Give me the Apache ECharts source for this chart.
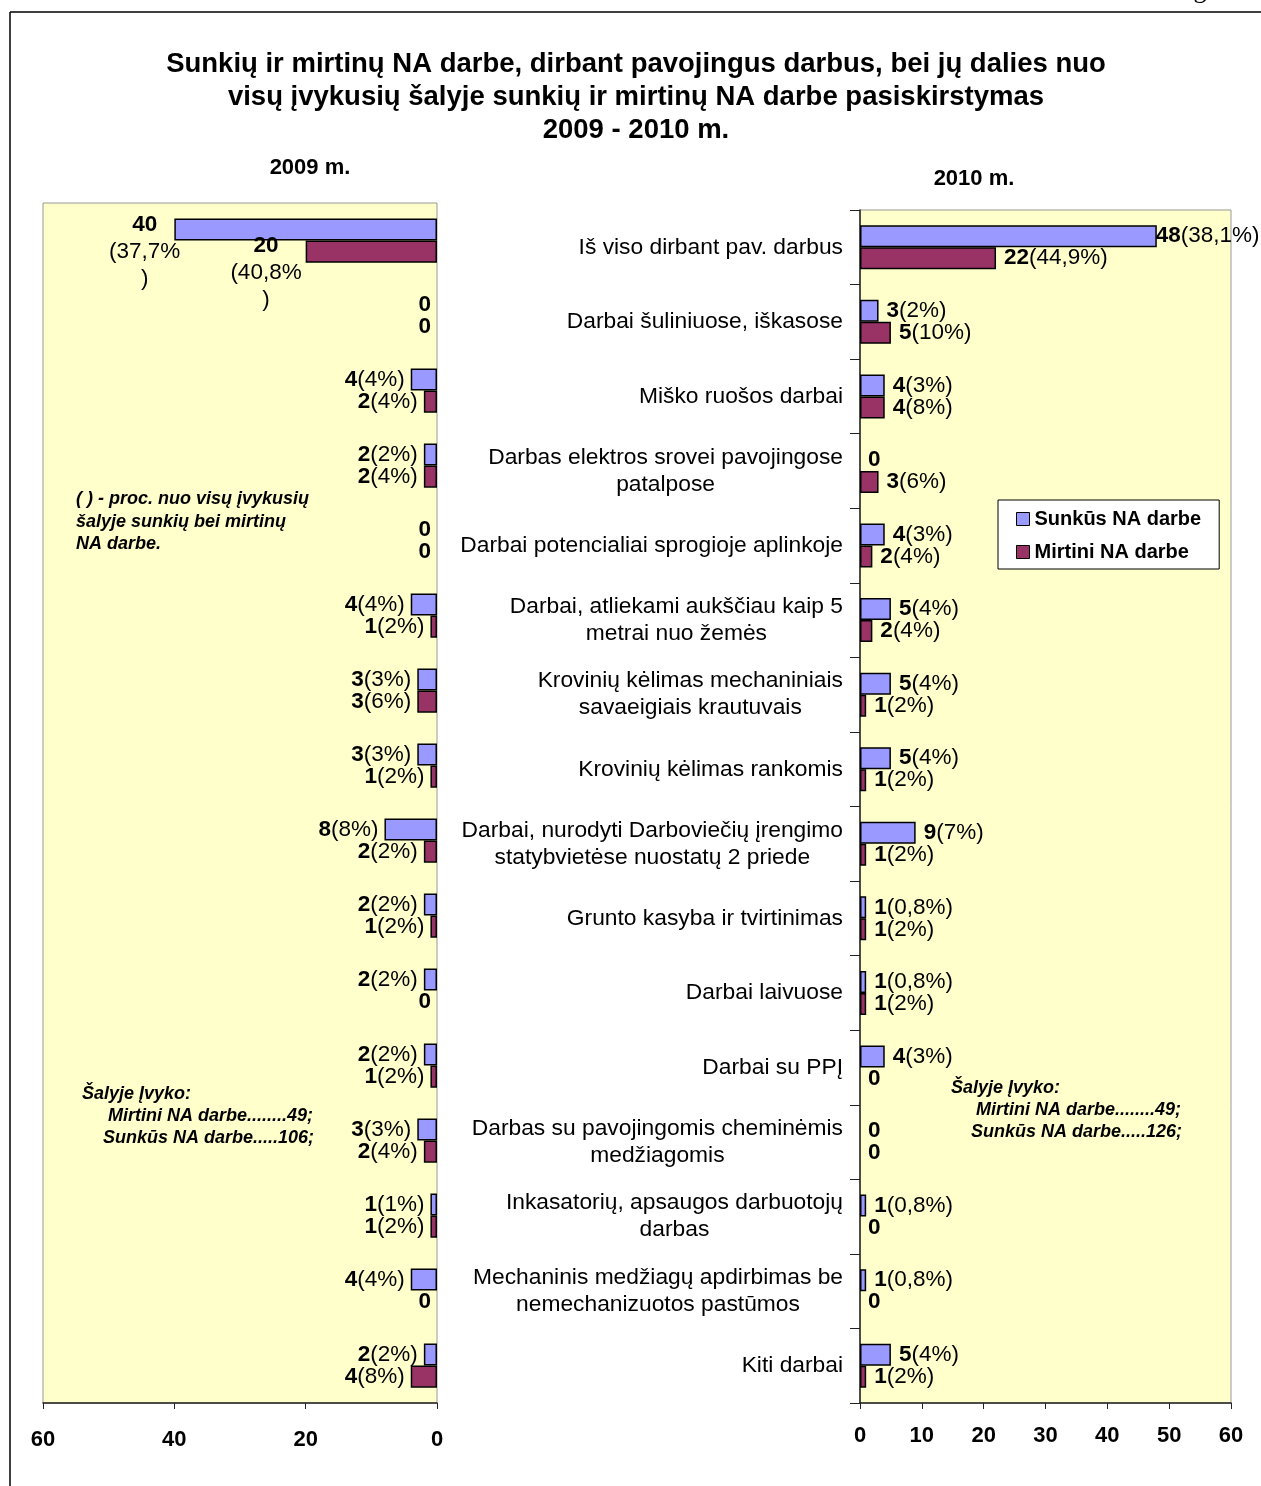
<!DOCTYPE html>
<html>
<head>
<meta charset="utf-8">
<script src="https://cdn.jsdelivr.net/npm/echarts@6/dist/echarts.min.js"></script>
<style>
  html, body { margin: 0; padding: 0; background: #fff; }
  #chart { width: 1261px; height: 1486px; }
</style>
</head>
<body>
<div id="chart"></div>
<script>
var categories = [
    'Iš viso dirbant pav. darbus',
    'Darbai šuliniuose, iškasose',
    'Miško ruošos darbai',
    'Darbas elektros srovei pavojingose\npatalpose',
    'Darbai potencialiai sprogioje aplinkoje',
    'Darbai, atliekami aukščiau kaip 5\nmetrai nuo žemės',
    'Krovinių kėlimas mechaniniais\nsavaeigiais krautuvais',
    'Krovinių kėlimas rankomis',
    'Darbai, nurodyti Darboviečių įrengimo\nstatybvietėse nuostatų 2 priede',
    'Grunto kasyba ir tvirtinimas',
    'Darbai laivuose',
    'Darbai su PPĮ',
    'Darbas su pavojingomis cheminėmis\nmedžiagomis',
    'Inkasatorių, apsaugos darbuotojų\ndarbas',
    'Mechaninis medžiagų apdirbimas be\nnemechanizuotos pastūmos',
    'Kiti darbai'
];
var seriesNames = ['Sunkūs NA darbe', 'Mirtini NA darbe'];

var sunkus2009 = [40, 0, 4, 2, 0, 4, 3, 3, 8, 2, 2, 2, 3, 1, 4, 2];
var mirtini2009 = [20, 0, 2, 2, 0, 1, 3, 1, 2, 1, 0, 1, 2, 1, 0, 4];
var sunkus2009Pct = ['37,7%', '', '4%', '2%', '', '4%', '3%', '3%', '8%', '2%', '2%', '2%', '3%', '1%', '4%', '2%'];
var mirtini2009Pct = ['40,8%', '', '4%', '4%', '', '2%', '6%', '2%', '2%', '2%', '', '2%', '4%', '2%', '', '8%'];

var sunkus2010 = [48, 3, 4, 0, 4, 5, 5, 5, 9, 1, 1, 4, 0, 1, 1, 5];
var mirtini2010 = [22, 5, 4, 3, 2, 2, 1, 1, 1, 1, 1, 0, 0, 0, 0, 1];
var sunkus2010Pct = ['38,1%', '2%', '3%', '', '3%', '4%', '4%', '4%', '7%', '0,8%', '0,8%', '3%', '', '0,8%', '0,8%', '4%'];
var mirtini2010Pct = ['44,9%', '10%', '8%', '6%', '4%', '4%', '2%', '2%', '2%', '2%', '2%', '', '', '', '', '2%'];

var ticks2009 = [0, 20, 40, 60];
var ticks2010 = [0, 10, 20, 30, 40, 50, 60];

var FONT = 'Liberation Sans, Arial, sans-serif';
var BLUE = '#9999FF';
var RED = '#993366';

var labelRich = {
    b: { fontFamily: FONT, fontSize: 22.5, fontWeight: 'bold', color: '#000', lineHeight: 27, align: 'center' },
    n: { fontFamily: FONT, fontSize: 22.5, color: '#000', lineHeight: 27, align: 'center' }
};

// 2009 first row labels are wrapped like in the original sheet
var makeLabel = function (pcts, wrapFirst) {
    return function (p) {
        var pct = pcts[p.dataIndex];
        if (!pct) return '{b|' + p.value + '}';
        if (wrapFirst && p.dataIndex === 0) return '{b|' + p.value + '}\n{n|(' + pct + '}\n{n|)}';
        return '{b|' + p.value + '}{n|(' + pct + ')}';
    };
};

// zero bars get no outline, first item may get a label offset
var toData = function (vals, firstOffset) {
    return vals.map(function (v, i) {
        var item = { value: v };
        if (v === 0) item.itemStyle = { borderWidth: 0 };
        if (i === 0 && firstOffset) item.label = { offset: firstOffset };
        return item;
    });
};

var barSeries = function (name, axis, data, color, pcts, pos, wrapFirst) {
    return {
        name: name,
        type: 'bar',
        xAxisIndex: axis,
        yAxisIndex: axis,
        data: data,
        barGap: '0%',
        barCategoryGap: '41%',
        itemStyle: { color: color, borderColor: '#000', borderWidth: 1.5 },
        label: {
            show: true,
            position: pos,
            distance: pos === 'right' ? 8 : 6,
            formatter: makeLabel(pcts, wrapFirst),
            rich: labelRich
        },
        emphasis: { disabled: true }
    };
};

var catLabel = function (value) {
    return value.split('\n').map(function (l) { return '{c|' + l + '}'; }).join('\n');
};

var noteStyle = { fontFamily: FONT, fontSize: 18, fontWeight: 'bold', fontStyle: 'italic', fill: '#000' };
var noteText = function (x, y, text) {
    return { type: 'text', x: x, y: y, style: Object.assign({ text: text, textAlign: 'left', textVerticalAlign: 'middle' }, noteStyle) };
};

var chart = echarts.init(document.getElementById('chart'));
var option = {
    backgroundColor: '#fff',
    animation: false,
    legend: {
        data: seriesNames,
        orient: 'vertical',
        left: 998,
        top: 500,
        backgroundColor: '#fff',
        borderColor: '#000',
        borderWidth: 1,
        padding: [8, 18, 6, 18],
        itemGap: 11,
        itemWidth: 13,
        itemHeight: 13,
        itemTextGap: 5,
        icon: 'rect',
        itemStyle: { borderColor: '#000', borderWidth: 1 },
        textStyle: { fontFamily: FONT, fontSize: 20, fontWeight: 'bold', color: '#000', lineHeight: 22 },
        selectedMode: false
    },
    grid: [
        { left: 43, top: 203, width: 394, height: 1200, show: true, backgroundColor: '#FFFFCC', borderColor: '#999', borderWidth: 1 },
        { left: 860, top: 210, width: 371, height: 1193, show: true, backgroundColor: '#FFFFCC', borderColor: '#999', borderWidth: 1 }
    ],
    xAxis: [
        {
            gridIndex: 0, type: 'value', inverse: true,
            min: ticks2009[0], max: ticks2009[ticks2009.length - 1], interval: ticks2009[1] - ticks2009[0],
            axisLine: { show: true, lineStyle: { color: '#222', width: 1.5 } },
            axisTick: { show: true, length: 6, lineStyle: { color: '#222' } },
            splitLine: { show: false },
            axisLabel: { margin: 26, fontFamily: FONT, fontSize: 22, fontWeight: 'bold', color: '#000' }
        },
        {
            gridIndex: 1, type: 'value',
            min: ticks2010[0], max: ticks2010[ticks2010.length - 1], interval: ticks2010[1] - ticks2010[0],
            axisLine: { show: true, lineStyle: { color: '#222', width: 1.5 } },
            axisTick: { show: true, length: 6, lineStyle: { color: '#222' } },
            splitLine: { show: false },
            axisLabel: { margin: 22, fontFamily: FONT, fontSize: 22, fontWeight: 'bold', color: '#000' }
        }
    ],
    yAxis: [
        {
            gridIndex: 0, type: 'category', inverse: true, position: 'right',
            data: categories,
            axisLine: { show: false }, axisTick: { show: false }, axisLabel: { show: false }
        },
        {
            gridIndex: 1, type: 'category', inverse: true,
            data: categories,
            axisLine: { show: true, lineStyle: { color: '#222', width: 1.5 } },
            axisTick: { show: true, length: 10, lineStyle: { color: '#222' } },
            axisLabel: {
                interval: 0,
                margin: 17,
                formatter: catLabel,
                rich: { c: { fontFamily: FONT, fontSize: 22.8, color: '#000', lineHeight: 27, align: 'center' } }
            }
        }
    ],
    series: [
        barSeries(seriesNames[0], 0, toData(sunkus2009, [12, 22]), BLUE, sunkus2009Pct, 'left', true),
        barSeries(seriesNames[1], 0, toData(mirtini2009, [2, 21]), RED, mirtini2009Pct, 'left', true),
        barSeries(seriesNames[0], 1, toData(sunkus2010, [-9, 0]), BLUE, sunkus2010Pct, 'right', false),
        barSeries(seriesNames[1], 1, toData(mirtini2010), RED, mirtini2010Pct, 'right', false)
    ],
    graphic: [
        { type: 'line', shape: { x1: 10, y1: 12, x2: 1261, y2: 12 }, style: { stroke: '#000', lineWidth: 1.5 } },
        { type: 'line', shape: { x1: 10, y1: 12, x2: 10, y2: 1486 }, style: { stroke: '#000', lineWidth: 1.5 } },
        { type: 'text', x: 1200, y: 4, style: { text: 'g', fontFamily: 'Liberation Serif, serif', fontSize: 26, fill: '#000', textAlign: 'center', textVerticalAlign: 'bottom' } },
        {
            type: 'text', x: 636, y: 48,
            style: {
                text: 'Sunkių ir mirtinų NA darbe, dirbant pavojingus darbus, bei jų dalies nuo\nvisų įvykusių šalyje sunkių ir mirtinų NA darbe pasiskirstymas\n2009 - 2010 m.',
                fontFamily: FONT, fontSize: 27.5, fontWeight: 'bold', fill: '#000', lineHeight: 33,
                textAlign: 'center', textVerticalAlign: 'top'
            }
        },
        { type: 'text', x: 310, y: 168, style: { text: '2009 m.', fontFamily: FONT, fontSize: 22, fontWeight: 'bold', fill: '#000', textAlign: 'center', textVerticalAlign: 'middle' } },
        { type: 'text', x: 974, y: 179, style: { text: '2010 m.', fontFamily: FONT, fontSize: 22, fontWeight: 'bold', fill: '#000', textAlign: 'center', textVerticalAlign: 'middle' } },
        {
            type: 'text', x: 76, y: 488,
            style: Object.assign({ text: '( ) - proc. nuo visų įvykusių\nšalyje sunkių bei mirtinų\nNA darbe.', lineHeight: 22.5, textAlign: 'left', textVerticalAlign: 'top' }, noteStyle)
        },
        noteText(82, 1094, 'Šalyje Įvyko:'),
        noteText(108, 1116, 'Mirtini NA darbe........49;'),
        noteText(103, 1138, 'Sunkūs NA darbe.....106;'),
        noteText(951, 1088, 'Šalyje Įvyko:'),
        noteText(976, 1110, 'Mirtini NA darbe........49;'),
        noteText(971, 1132, 'Sunkūs NA darbe.....126;')
    ]
};
chart.setOption(option);
</script>
</body>
</html>
